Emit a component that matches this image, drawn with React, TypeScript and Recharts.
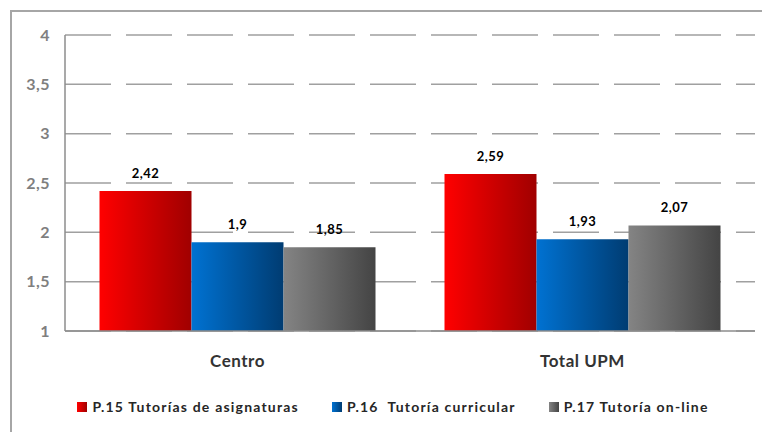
import React from 'react';
import { BarChart, Bar, XAxis, YAxis, CartesianGrid, LabelList } from 'recharts';

const categories = ['Centro', 'Total UPM'];
const seriesNames = ['P.15 Tutorías de asignaturas', 'P.16  Tutoría curricular', 'P.17 Tutoría on-line'];
const p15 = [2.42, 2.59];
const p16 = [1.9, 1.93];
const p17 = [1.85, 2.07];
const yTicks = [1, 1.5, 2, 2.5, 3, 3.5, 4];

const keys = ['p15', 'p16', 'p17'];
const gradients = [
  ['#ff0000', '#a00000'],
  ['#0072d2', '#003c72'],
  ['#848484', '#444444'],
];

const data = categories.map((name, i) => ({ name, p15: p15[i], p16: p16[i], p17: p17[i] }));

const fmt = (v: number) => String(v).replace('.', ',');
const font = 'Lato, "Open Sans", sans-serif';

export default function App() {
  return (
    <div style={{ position: 'absolute', left: 0, top: 0, width: 762, height: 432, background: '#fff', fontFamily: font }}>
      <div style={{ position: 'absolute', left: 10, top: 10, width: 760, height: 430, borderLeft: '2px solid #a6a6a6', borderTop: '2px solid #a6a6a6' }} />
      <BarChart
        width={762}
        height={432}
        data={data}
        margin={{ top: 35, right: 7, bottom: 60, left: 0 }}
        barCategoryGap="10%"
        barGap={0}
        style={{ position: 'absolute', left: 0, top: 0 }}
      >
        <defs>
          {gradients.map((g, i) => (
            <linearGradient key={i} id={`grad${i}`} x1="0" y1="0" x2="1" y2="0">
              <stop offset="0%" stopColor={g[0]} />
              <stop offset="100%" stopColor={g[1]} />
            </linearGradient>
          ))}
        </defs>
        <CartesianGrid vertical={false} stroke="#a0a0a0" strokeWidth={1.5} strokeDasharray="46 15" />
        <XAxis
          dataKey="name"
          height={41}
          tickLine={false}
          axisLine={{ stroke: '#8c8c8c', strokeWidth: 1.5 }}
          tick={{ fill: '#333333', fontSize: 17, fontWeight: 700, fontFamily: font, letterSpacing: 0.5 }}
          tickMargin={18}
        />
        <YAxis
          width={65}
          domain={[1, 4]}
          ticks={yTicks}
          tickFormatter={fmt}
          tickLine={false}
          tickSize={0}
          tickMargin={15}
          axisLine={{ stroke: '#8c8c8c', strokeWidth: 1.5 }}
          tick={{ fill: '#7f7f7f', fontSize: 16, fontWeight: 700, fontFamily: font, letterSpacing: 0.5 }}
        />
        {keys.map((k, i) => (
          <Bar key={k} dataKey={k} name={seriesNames[i]} fill={`url(#grad${i})`} isAnimationActive={false}>
            <LabelList
              dataKey={k}
              position="top"
              offset={13}
              formatter={(v: any) => fmt(v)}
              style={{ fill: '#000', fontSize: 13, fontWeight: 700, fontFamily: font, letterSpacing: 0.5 }}
            />
          </Bar>
        ))}
      </BarChart>
      <div style={{ position: 'absolute', top: 398, left: 0, width: 762, display: 'flex', justifyContent: 'center', paddingLeft: 24, boxSizing: 'border-box', gap: 33 }}>
        {seriesNames.map((n, i) => (
          <div key={n} style={{ display: 'flex', alignItems: 'center', fontSize: 14, fontWeight: 700, color: '#262626', whiteSpace: 'pre', letterSpacing: 1.2 }}>
            <span style={{ display: 'inline-block', width: 10, height: 10, marginRight: 5, background: `linear-gradient(to right, ${gradients[i][0]}, ${gradients[i][1]})` }} />
            {n}
          </div>
        ))}
      </div>
    </div>
  );
}
